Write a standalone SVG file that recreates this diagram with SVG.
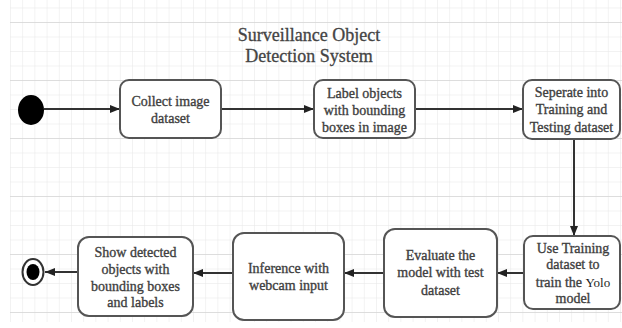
<svg xmlns="http://www.w3.org/2000/svg" width="622" height="328" viewBox="0 0 622 328">
<defs>
<pattern id="minor" x="10" y="7.5" width="12.2" height="14.5" patternUnits="userSpaceOnUse">
<path d="M0 0V14.5M0 0H12.2" fill="none" stroke="#e6e6e6" stroke-width="1"/>
</pattern>
<pattern id="major" x="10" y="22" width="61" height="58" patternUnits="userSpaceOnUse">
<path d="M0 0H61" fill="none" stroke="#d6d6d6" stroke-width="1.4"/>
</pattern>
<marker id="arr" viewBox="0 0 10 8" refX="10" refY="4" markerWidth="10" markerHeight="8" markerUnits="userSpaceOnUse" orient="auto">
<path d="M0 0L10 4L0 8z" fill="#222"/>
</marker>
</defs>
<style>
.box{fill:#fff;stroke:#555;stroke-width:2}
.t{font-family:"Liberation Serif","Times New Roman",serif;font-size:14px;fill:#3f3f3f;stroke:#3f3f3f;stroke-width:0.35;text-anchor:middle}
.title{font-family:"Liberation Serif","Times New Roman",serif;font-size:18px;fill:#444;stroke:#444;stroke-width:0.3;text-anchor:middle}
.c{fill:none;stroke:#333;stroke-width:2}
</style>
<rect width="622" height="328" fill="#fff"/>
<rect x="10" y="0" width="612" height="322" fill="url(#minor)"/>
<rect x="10" y="0" width="612" height="322" fill="url(#major)"/>
<g id="title">
<text class="title" x="309" y="41">Surveillance Object</text>
<text class="title" x="309" y="62">Detection System</text>
</g>
<g id="connectors">
<path class="c" d="M44 109H120" marker-end="url(#arr)"/>
<path class="c" d="M221 109H314" marker-end="url(#arr)"/>
<path class="c" d="M415 109H523" marker-end="url(#arr)"/>
<path class="c" d="M574 139V236" marker-end="url(#arr)"/>
<path class="c" d="M524 273H497" marker-end="url(#arr)"/>
<path class="c" d="M384 273H344" marker-end="url(#arr)"/>
<path class="c" d="M233 273H193" marker-end="url(#arr)"/>
<path class="c" d="M78 272H45" marker-end="url(#arr)"/>
</g>
<g id="start">
<ellipse cx="31" cy="110" rx="13" ry="15" fill="#000"/>
</g>
<g id="collect">
<rect class="box" x="120" y="80" width="101" height="58" rx="9"/>
<text class="t" x="170.5" y="106">Collect image</text>
<text class="t" x="170.5" y="123">dataset</text>
</g>
<g id="label">
<rect class="box" x="314" y="80" width="101" height="58" rx="9"/>
<text class="t" x="364.5" y="98">Label objects</text>
<text class="t" x="364.5" y="115">with bounding</text>
<text class="t" x="364.5" y="132">boxes in image</text>
</g>
<g id="separate">
<rect class="box" x="523" y="80" width="97" height="59" rx="9"/>
<text class="t" x="571.5" y="97">Seperate into</text>
<text class="t" x="571.5" y="114">Training and</text>
<text class="t" x="571.5" y="132">Testing dataset</text>
</g>
<g id="train">
<rect class="box" x="524" y="236" width="96" height="73" rx="9"/>
<text class="t" x="573" y="253">Use Training</text>
<text class="t" x="573" y="269">dataset to</text>
<text class="t" x="573" y="287">train the <tspan style="font-size:13px;fill:#222;stroke:none">Yolo</tspan></text>
<text class="t" x="573" y="303">model</text>
</g>
<g id="evaluate">
<rect class="box" x="384" y="229" width="113" height="88" rx="11"/>
<text class="t" x="440.5" y="260">Evaluate the</text>
<text class="t" x="440.5" y="277">model with test</text>
<text class="t" x="440.5" y="295">dataset</text>
</g>
<g id="inference">
<rect class="box" x="233" y="233" width="111" height="87" rx="11"/>
<text class="t" x="288.5" y="273">Inference with</text>
<text class="t" x="288.5" y="290">webcam input</text>
</g>
<g id="show">
<rect class="box" x="78" y="237" width="115" height="79" rx="11"/>
<text class="t" x="135.5" y="257">Show detected</text>
<text class="t" x="135.5" y="274">objects with</text>
<text class="t" x="135.5" y="291">bounding boxes</text>
<text class="t" x="135.5" y="307">and labels</text>
</g>
<g id="end">
<ellipse cx="33" cy="272" rx="10.5" ry="13" fill="#fff" stroke="#333" stroke-width="2"/>
<ellipse cx="33" cy="272" rx="6.5" ry="8" fill="#000"/>
</g>
</svg>
